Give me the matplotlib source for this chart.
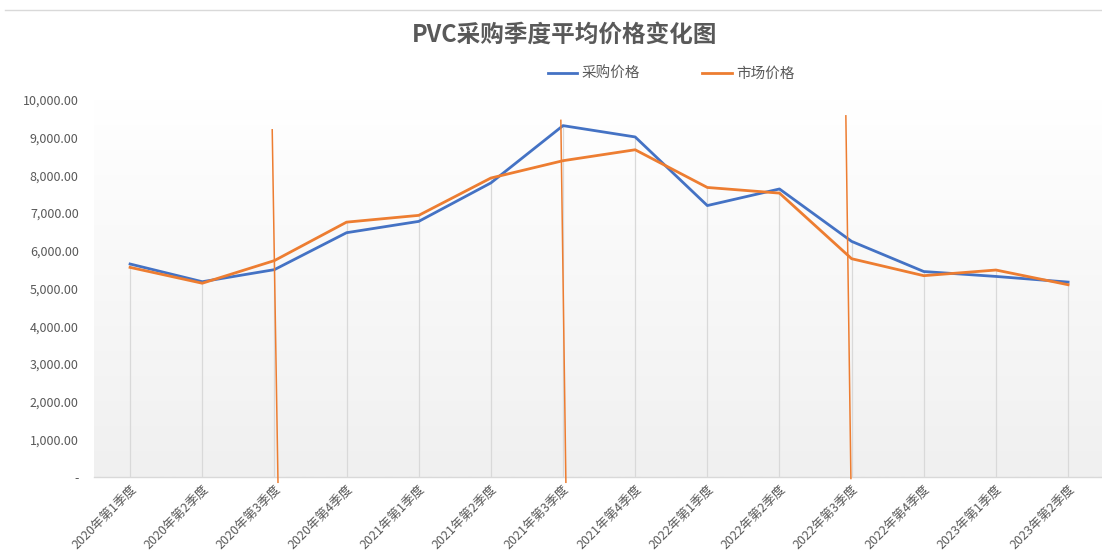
import matplotlib
matplotlib.use('Agg')
import matplotlib.pyplot as plt
import numpy as np
from matplotlib.colors import LinearSegmentedColormap
from matplotlib.lines import Line2D
import matplotlib.transforms as mtransforms

plt.rcParams['font.family'] = ['Noto Sans CJK SC', 'DejaVu Sans']

quarters = ['2020年第1季度', '2020年第2季度', '2020年第3季度', '2020年第4季度',
            '2021年第1季度', '2021年第2季度', '2021年第3季度', '2021年第4季度',
            '2022年第1季度', '2022年第2季度', '2022年第3季度', '2022年第4季度',
            '2023年第1季度', '2023年第2季度']
purchase = [5650, 5180, 5500, 6480, 6780, 7800, 9320, 9020, 7200, 7640, 6250, 5450, 5320, 5170]
market = [5560, 5140, 5740, 6760, 6940, 7930, 8390, 8680, 7680, 7530, 5790, 5340, 5490, 5100]

# the three orange hand-drawn strokes (category position / value at each end)
stroke_x_top = [1.97, 5.97, 9.92]
stroke_y_top = [9210, 9460, 9580]
stroke_x_bot = [2.05, 6.04, 9.99]
stroke_y_bot = [-140, -140, -40]

blue = '#4472C4'
orange = '#ED7D31'
grey = '#595959'

fig = plt.figure(figsize=(11.02, 5.53), dpi=100)
ax = fig.add_axes([94/1102, 76/553, 1008/1102, 377/553])

x = np.arange(len(quarters))
ax.set_xlim(-0.5, 13.47)
ax.set_ylim(0, 10000)

# plot area gradient
cmap = LinearSegmentedColormap.from_list('bg', ['#ffffff', '#f0f0f0'])
ax.imshow(np.linspace(0, 1, 256).reshape(-1, 1), cmap=cmap, aspect='auto',
          extent=[-0.5, 13.47, 0, 10000], zorder=0)

# drop lines from the higher series down to the axis
ax.vlines(x, 0, np.maximum(purchase, market), color='#d9d9d9', lw=0.9, zorder=1)

ax.plot(x, purchase, color=blue, lw=2.0, label='采购价格', zorder=3)
ax.plot(x, market, color=orange, lw=2.0, label='市场价格', zorder=3)

for xt, yt, xb, yb in zip(stroke_x_top, stroke_y_top, stroke_x_bot, stroke_y_bot):
    ax.plot([xt, xb], [yt, yb], color=orange, lw=1.1, clip_on=False, zorder=4)

ax.set_xticks(x)
ax.set_xticklabels(quarters, rotation=45, ha='right', rotation_mode='anchor',
                   fontsize=9, color=grey)
off = mtransforms.ScaledTranslation(0, 0, fig.dpi_scale_trans)
for lab in ax.get_xticklabels():
    lab.set_transform(lab.get_transform() + off)

yt = np.arange(0, 10001, 1000)
ax.set_yticks(yt)
ax.set_yticklabels(['-' if v == 0 else f'{v:,.2f}' for v in yt], fontsize=9, color=grey)
ax.tick_params(axis='both', length=0)
ax.tick_params(axis='y', pad=11)
ax.tick_params(axis='x', pad=4)

for s in ['top', 'left', 'right']:
    ax.spines[s].set_visible(False)
ax.spines['bottom'].set_color('#d9d9d9')
ax.spines['bottom'].set_linewidth(1.0)

fig.text(565/1102, 1 - 35/553, 'PVC采购季度平均价格变化图', ha='center', va='center',
         fontsize=17, fontweight='bold', color=grey)

fig.legend(loc='center', bbox_to_anchor=(671/1102, 1 - 74/553), ncol=2, frameon=False,
           fontsize=10.5, labelcolor=grey, handlelength=2.0, handletextpad=0.3,
           columnspacing=4.3)

fig.add_artist(Line2D([5/1102, 1], [1 - 10/553, 1 - 10/553], color='#d9d9d9', lw=1.0))

fig.savefig('out.png', dpi=100)
